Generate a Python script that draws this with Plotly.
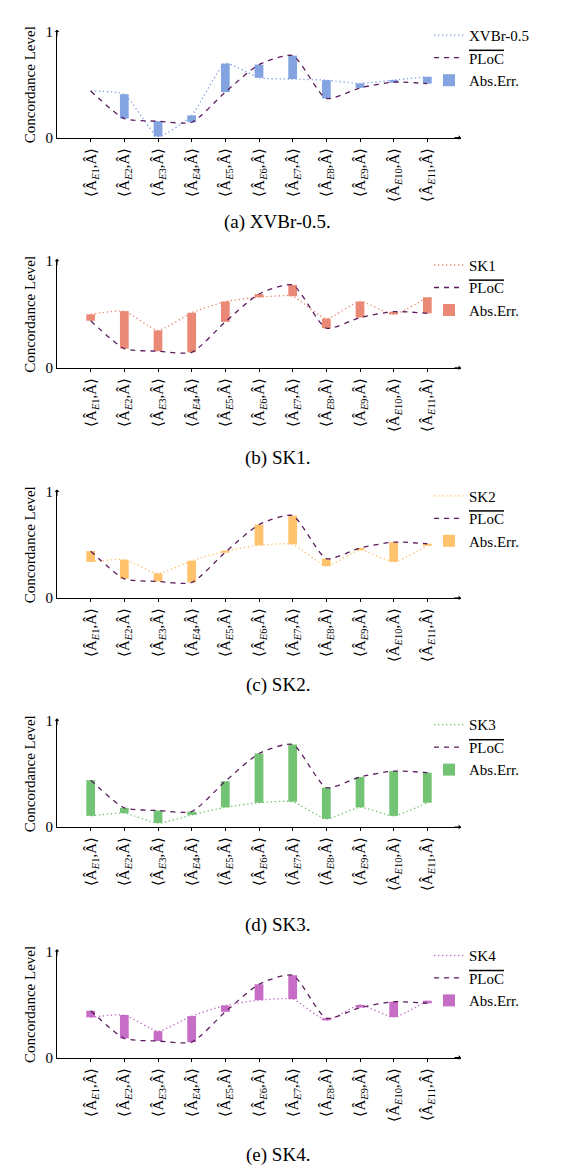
import plotly.graph_objects as go

# ---------------- data ----------------
pair_labels = [f"⟨Â<sub><i>E</i>{i}</sub>,Â⟩" for i in range(1, 12)]
x_pos = list(range(1, 12))

ploc = [0.44, 0.18, 0.155, 0.145, 0.43, 0.69, 0.775, 0.37, 0.47, 0.525, 0.51]
xvbr = [0.44, 0.41, 0.01, 0.21, 0.70, 0.565, 0.553, 0.543, 0.512, 0.543, 0.575]
sk1 = [0.50, 0.53, 0.35, 0.515, 0.62, 0.66, 0.67, 0.46, 0.62, 0.50, 0.66]
sk2 = [0.34, 0.36, 0.23, 0.35, 0.44, 0.495, 0.505, 0.30, 0.45, 0.34, 0.49]
sk3 = [0.105, 0.13, 0.037, 0.114, 0.185, 0.228, 0.238, 0.077, 0.185, 0.105, 0.228]
sk4 = [0.378, 0.40, 0.248, 0.39, 0.49, 0.54, 0.55, 0.35, 0.495, 0.38, 0.535]

series_names = ["XVBr-0.5", "SK1", "SK2", "SK3", "SK4"]
series_values = [xvbr, sk1, sk2, sk3, sk4]
captions = ["(a) XVBr-0.5.", "(b) SK1.", "(c) SK2.", "(d) SK3.", "(e) SK4."]
colors = ["#7d9fe0", "#e9846f", "#ffbf66", "#6cc06e", "#c466c4"]
ploc_color = "#5a1d5c"
ploc_name = '<span style="text-decoration:overline">PLoC</span>'

# ---------------- layout geometry (pixels) ----------------
W, H = 568, 1166
panel_top = [16, 248.3, 482.3, 714.3, 948.3]
panel_bot = [123.3, 356.7, 590, 822.3, 1056]
legend_top = [3, 236, 470, 702, 936]
caption_y = [209, 448, 678, 922, 1155]
x_left, x_right = 49, 453


def py(p):
    return 1 - p / H


FONT = "Liberation Serif, Times New Roman, serif"
fig = go.Figure()
layout = dict(
    width=W, height=H, margin=dict(l=0, r=0, t=0, b=0),
    plot_bgcolor="white", paper_bgcolor="white",
    font=dict(family=FONT, size=14, color="black"),
    barmode="overlay",
)
annotations = []

for k in range(5):
    n = k + 1
    xa = "x" if n == 1 else f"x{n}"
    ya = "y" if n == 1 else f"y{n}"
    lg = "legend" if n == 1 else f"legend{n}"
    vals = series_values[k]
    col = colors[k]
    lo = [min(a, b) for a, b in zip(vals, ploc)]
    diff = [abs(a - b) for a, b in zip(vals, ploc)]

    fig.add_trace(go.Scatter(
        x=x_pos, y=vals, mode="lines", name=series_names[k],
        line=dict(color=col, width=1.3, dash="1.3px,2.7px", shape="spline", smoothing=0.5),
        xaxis=xa, yaxis=ya, legend=lg))
    fig.add_trace(go.Scatter(
        x=x_pos, y=ploc, mode="lines", name=ploc_name,
        line=dict(color=ploc_color, width=1.3, dash="5px,5px", shape="spline", smoothing=0.6),
        xaxis=xa, yaxis=ya, legend=lg))
    fig.add_trace(go.Bar(
        x=x_pos, y=diff, base=lo, name="Abs.Err.", width=0.26,
        marker=dict(color=col, line=dict(width=0)), opacity=0.95,
        xaxis=xa, yaxis=ya, legend=lg))

    xkey = "xaxis" if n == 1 else f"xaxis{n}"
    ykey = "yaxis" if n == 1 else f"yaxis{n}"
    layout[xkey] = dict(
        domain=[x_left / W, x_right / W], anchor=ya, range=[0, 12],
        tickmode="array", tickvals=x_pos, ticktext=pair_labels, tickangle=-90,
        ticks="outside", ticklen=3, tickcolor="black", showline=True,
        linecolor="black", linewidth=1, showgrid=False, zeroline=False,
        tickfont=dict(family=FONT, size=15))
    layout[ykey] = dict(
        domain=[py(panel_bot[k]), py(panel_top[k])], anchor=xa, range=[0, 1],
        tickmode="array", tickvals=[0, 1], ticktext=["0", "1"], ticks="",
        showline=True, linecolor="black", linewidth=1, showgrid=False,
        zeroline=False, tickfont=dict(family=FONT, size=15),
        title=dict(text="Concordance Level", font=dict(family=FONT, size=15), standoff=6))
    layout[lg] = dict(
        x=421 / W, y=py(legend_top[k]), xanchor="left", yanchor="top",
        bgcolor="rgba(0,0,0,0)", font=dict(family=FONT, size=15),
        traceorder="normal", itemwidth=30, tracegroupgap=0)

    # axis arrows
    annotations.append(dict(
        xref=f"{xa} domain", yref=f"{ya} domain", x=1.0, y=0, ax=-8, ay=0,
        text="", showarrow=True, arrowhead=1, arrowsize=0.8, arrowwidth=1,
        arrowcolor="black"))
    annotations.append(dict(
        xref=f"{xa} domain", yref=f"{ya} domain", x=0, y=1.02, ax=0, ay=8,
        text="", showarrow=True, arrowhead=1, arrowsize=0.8, arrowwidth=1,
        arrowcolor="black"))
    # caption
    annotations.append(dict(
        xref="paper", yref="paper", x=0.475, y=py(caption_y[k]),
        xanchor="center", yanchor="middle", text=captions[k], showarrow=False,
        font=dict(family=FONT, size=19)))

layout["annotations"] = annotations
fig.update_layout(**layout)
fig.write_html("out.html")
